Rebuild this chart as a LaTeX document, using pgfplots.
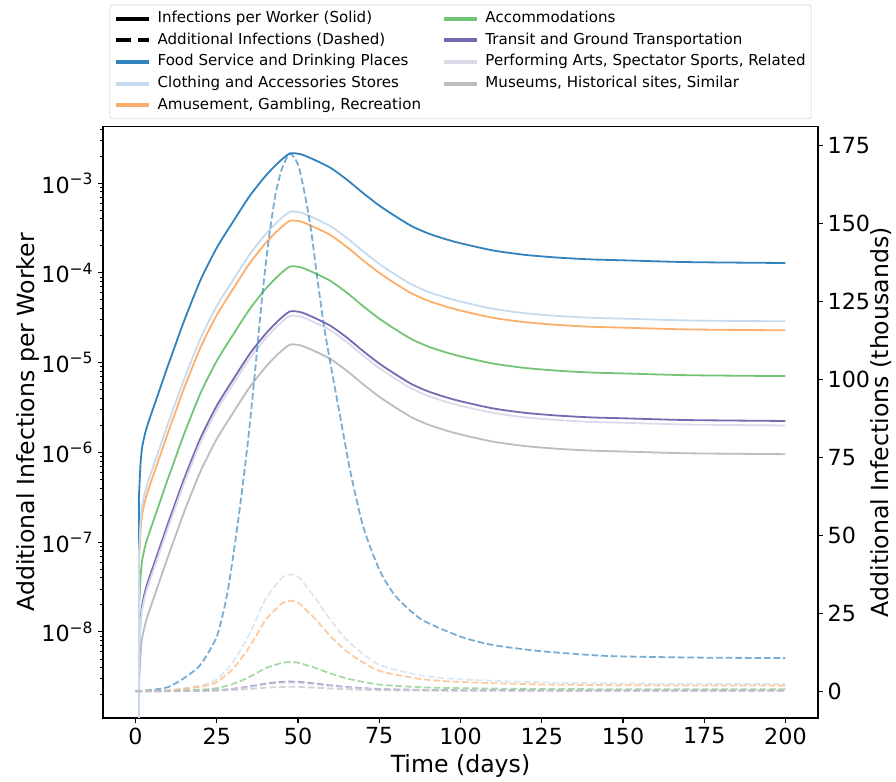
\documentclass[border=0pt]{standalone}
\usepackage{fontspec}
\setmainfont{DejaVu Sans}
\usepackage{pgfplots}
\usepackage{pgfplotstable}
\pgfplotsset{compat=1.18}

\definecolor{food}{HTML}{3182BD}
\definecolor{cloth}{HTML}{C6DBEF}
\definecolor{amuse}{HTML}{FDAE6B}
\definecolor{accom}{HTML}{74C476}
\definecolor{transit}{HTML}{756BB1}
\definecolor{perf}{HTML}{DADAEB}
\definecolor{museum}{HTML}{BDBDBD}

% infections per worker (left, log axis)
\pgfplotstableread{
t     food      cloth     amuse     accom     transit   perf      museum
1     2.951e-7  6.607e-8  5.248e-8  1.622e-8  5.129e-9  4.571e-9  2.188e-9
1.5   7.079e-7  1.585e-7  1.259e-7  3.890e-8  1.230e-8  1.096e-8  5.248e-9
2     1.122e-6  2.512e-7  1.995e-7  6.166e-8  1.950e-8  1.738e-8  8.318e-9
3     1.660e-6  3.715e-7  2.951e-7  9.120e-8  2.884e-8  2.570e-8  1.230e-8
4     2.188e-6  4.898e-7  3.890e-7  1.202e-7  3.802e-8  3.388e-8  1.622e-8
6     3.548e-6  7.943e-7  6.310e-7  1.950e-7  6.166e-8  5.495e-8  2.630e-8
8     5.754e-6  1.288e-6  1.023e-6  3.162e-7  1.000e-7  8.913e-8  4.266e-8
10    9.333e-6  2.089e-6  1.660e-6  5.129e-7  1.622e-7  1.445e-7  6.918e-8
12    1.479e-5  3.311e-6  2.630e-6  8.128e-7  2.570e-7  2.291e-7  1.096e-7
15    2.951e-5  6.607e-6  5.248e-6  1.622e-6  5.129e-7  4.571e-7  2.188e-7
20    8.318e-5  1.862e-5  1.479e-5  4.571e-6  1.445e-6  1.288e-6  6.166e-7
25    1.905e-4  4.266e-5  3.388e-5  1.047e-5  3.311e-6  2.951e-6  1.413e-6
30    3.715e-4  8.318e-5  6.607e-5  2.042e-5  6.457e-6  5.754e-6  2.754e-6
35    7.079e-4  1.585e-4  1.259e-4  3.890e-5  1.230e-5  1.096e-5  5.248e-6
40    1.202e-3  2.692e-4  2.138e-4  6.607e-5  2.089e-5  1.862e-5  8.913e-6
44    1.698e-3  3.802e-4  3.020e-4  9.333e-5  2.951e-5  2.630e-5  1.259e-5
47.5  2.138e-3  4.786e-4  3.802e-4  1.175e-4  3.715e-5  3.311e-5  1.585e-5
51    2.089e-3  4.677e-4  3.715e-4  1.148e-4  3.631e-5  3.236e-5  1.549e-5
55    1.820e-3  4.074e-4  3.236e-4  1.000e-4  3.162e-5  2.818e-5  1.349e-5
60    1.479e-3  3.311e-4  2.630e-4  8.128e-5  2.570e-5  2.291e-5  1.096e-5
65    1.096e-3  2.455e-4  1.950e-4  6.026e-5  1.905e-5  1.698e-5  8.128e-6
70    7.762e-4  1.738e-4  1.380e-4  4.266e-5  1.349e-5  1.202e-5  5.754e-6
75    5.623e-4  1.259e-4  1.000e-4  3.090e-5  9.772e-6  8.710e-6  4.169e-6
80    4.266e-4  9.550e-5  7.586e-5  2.344e-5  7.413e-6  6.607e-6  3.162e-6
85    3.311e-4  7.413e-5  5.888e-5  1.820e-5  5.754e-6  5.129e-6  2.455e-6
90    2.754e-4  6.166e-5  4.898e-5  1.514e-5  4.786e-6  4.266e-6  2.042e-6
95    2.399e-4  5.370e-5  4.266e-5  1.318e-5  4.169e-6  3.715e-6  1.778e-6
100   2.138e-4  4.786e-5  3.802e-5  1.175e-5  3.715e-6  3.311e-6  1.585e-6
110   1.778e-4  3.981e-5  3.162e-5  9.772e-6  3.090e-6  2.754e-6  1.318e-6
120   1.585e-4  3.548e-5  2.818e-5  8.710e-6  2.754e-6  2.455e-6  1.175e-6
130   1.479e-4  3.311e-5  2.630e-5  8.128e-6  2.570e-6  2.291e-6  1.096e-6
140   1.413e-4  3.162e-5  2.512e-5  7.762e-6  2.455e-6  2.188e-6  1.047e-6
150   1.380e-4  3.090e-5  2.455e-5  7.586e-6  2.399e-6  2.138e-6  1.023e-6
170   1.318e-4  2.951e-5  2.344e-5  7.244e-6  2.291e-6  2.042e-6  9.772e-7
200   1.288e-4  2.884e-5  2.291e-5  7.079e-6  2.239e-6  1.995e-6  9.550e-7
}\perworker

% the day-0 value is zero: on the log axis the line drops to the bottom edge
\pgfplotstableread{
t     food      cloth
1     1e-12     1e-12
1     2.951e-7  6.607e-8
}\dayzero

% additional infections, thousands (right axis)
\pgfplotstableread{
t     food
0     0
5     0.4
10    1.3
15    4.2
20    8.5
25    17.5
28    30
30    43
32.5  62
35    84
37    105
39    127
41    145
43    159
45    167.5
47.5  172.5
50    169
52    160
54    148
56    132
58    117
60    105
63    88
66    71
70    53
75    39
80    30.5
88    23
100   17.5
110   14.8
125   12.8
145   11.3
170   10.8
200   10.6
}\dashfood

\pgfplotstableread{
t     cloth  amuse  accom  transit perf   museum
0     0      0      0      0       0      0
10    0.28   0.22   0.07   0.02    0.02   0.01
20    1.84   1.43   0.46   0.15    0.13   0.07
25    3.80   2.94   0.95   0.31    0.26   0.14
30    9.33   7.22   2.32   0.76    0.65   0.35
35    18.2   14.1   4.54   1.49    1.26   0.68
40    29.5   22.8   7.34   2.41    2.04   1.10
45    36.3   28.1   9.05   2.96    2.51   1.36
47.5  37.4   29.0   9.32   3.05    2.59   1.40
50    36.7   28.4   9.13   2.99    2.54   1.37
55    30.4   23.5   7.56   2.48    2.10   1.13
60    22.8   17.6   5.67   1.86    1.58   0.85
66    15.4   11.9   3.83   1.26    1.07   0.58
75    8.46   6.55   2.11   0.69    0.59   0.32
88    4.99   3.86   1.24   0.41    0.35   0.19
100   3.80   2.94   0.95   0.31    0.26   0.14
125   2.78   2.15   0.69   0.23    0.19   0.10
160   2.39   1.85   0.59   0.19    0.17   0.09
200   2.30   1.78   0.57   0.19    0.16   0.09
}\dashrest

\pgfplotsset{
  base/.style={
    scale only axis, width=514.8pt, height=425.7pt,
    xmin=-10, xmax=210,
    tick align=outside,
    major tick length=3.5pt, minor tick length=2pt,
    every major tick/.append style={line width=0.8pt, black},
    every minor tick/.append style={line width=0.6pt, black},
    axis line style={line width=0.8pt},
    tick label style={font=\fontsize{16}{19}\selectfont},
    label style={font=\fontsize{17}{20}\selectfont},
    /pgf/number format/assume math mode=true,
  },
  solid/.style={line width=1.3pt, smooth, tension=0.4},
  dsh/.style={line width=1.3pt, dash pattern=on 4.8pt off 2.1pt, opacity=0.65, smooth, tension=0.4},
}

\begin{document}
\begin{tikzpicture}
% page margins as in the reference
\path (-74.2pt,-43.2pt) rectangle (571pt,517pt);
\begin{axis}[base,
  ymode=log, ymin=1.10e-9, ymax=4.24e-3,
  xtick={0,25,...,200}, xtick pos=bottom,
  ytick pos=left,
  ytick={1e-8,1e-7,1e-6,1e-5,1e-4,1e-3},
  yticklabels={10\textsuperscript{−8},10\textsuperscript{−7},10\textsuperscript{−6},10\textsuperscript{−5},10\textsuperscript{−4},10\textsuperscript{−3}},
  minor ytick={2e-9,3e-9,4e-9,5e-9,6e-9,7e-9,8e-9,9e-9,
    2e-8,3e-8,4e-8,5e-8,6e-8,7e-8,8e-8,9e-8,
    2e-7,3e-7,4e-7,5e-7,6e-7,7e-7,8e-7,9e-7,
    2e-6,3e-6,4e-6,5e-6,6e-6,7e-6,8e-6,9e-6,
    2e-5,3e-5,4e-5,5e-5,6e-5,7e-5,8e-5,9e-5,
    2e-4,3e-4,4e-4,5e-4,6e-4,7e-4,8e-4,9e-4,
    2e-3,3e-3,4e-3},
  xlabel={Time (days)},
  ylabel={Additional Infections per Worker},
  ylabel style={at={(axis description cs:-0.105,0.5)}, anchor=center},
]
\addplot[line width=1.3pt, food] table[x=t, y=food] {\dayzero};
\addplot[solid, food] table[x=t, y=food] {\perworker};
\addplot[solid, amuse] table[x=t, y=amuse] {\perworker};
\addplot[solid, accom] table[x=t, y=accom] {\perworker};
\addplot[solid, transit] table[x=t, y=transit] {\perworker};
\addplot[solid, perf] table[x=t, y=perf] {\perworker};
\addplot[solid, museum] table[x=t, y=museum] {\perworker};
\addplot[solid, cloth] table[x=t, y=cloth] {\perworker};
\addplot[line width=1.3pt, cloth] table[x=t, y=cloth] {\dayzero};
\end{axis}

\begin{axis}[base,
  axis x line=none, axis y line*=right,
  ymin=-8.6, ymax=181.1,
  ytick={0,25,...,175},
  ylabel={Additional Infections (thousands)},
  ylabel style={at={(axis description cs:1.088,0.5)}, anchor=center},
  legend columns=2,
  legend cell align=left,
  legend image code/.code={\draw[#1] (0pt,0pt) -- (24pt,0pt);},
  legend style={at={(0.5,1)}, anchor=south, yshift=5.5pt,
    font=\fontsize{10.85}{12}\selectfont,
    draw=black!20, rounded corners=2pt, fill=white,
    inner xsep=3pt, inner ysep=3.5pt,
    nodes={inner sep=1pt, text height=8.2pt, text depth=2.4pt},
    row sep=3pt,
    /tikz/every odd column/.append style={column sep=3.5pt},
    /tikz/every even column/.append style={column sep=14pt}},
]
\addplot[dsh, food, forget plot] table[x=t, y=food] {\dashfood};
\addplot[dsh, cloth, forget plot] table[x=t, y=cloth] {\dashrest};
\addplot[dsh, amuse, forget plot] table[x=t, y=amuse] {\dashrest};
\addplot[dsh, accom, forget plot] table[x=t, y=accom] {\dashrest};
\addplot[dsh, transit, forget plot] table[x=t, y=transit] {\dashrest};
\addplot[dsh, perf, forget plot] table[x=t, y=perf] {\dashrest};
\addplot[dsh, museum, forget plot] table[x=t, y=museum] {\dashrest};

\addlegendimage{black, line width=2.9pt}
\addlegendentry{Infections per Worker (Solid)}
\addlegendimage{accom, line width=2.9pt}
\addlegendentry{Accommodations}
\addlegendimage{black, line width=2.9pt, dash pattern=on 11pt off 4.8pt}
\addlegendentry{Additional Infections (Dashed)}
\addlegendimage{transit, line width=2.9pt}
\addlegendentry{Transit and Ground Transportation}
\addlegendimage{food, line width=2.9pt}
\addlegendentry{Food Service and Drinking Places}
\addlegendimage{perf, line width=2.9pt}
\addlegendentry{Performing Arts, Spectator Sports, Related}
\addlegendimage{cloth, line width=2.9pt}
\addlegendentry{Clothing and Accessories Stores}
\addlegendimage{museum, line width=2.9pt}
\addlegendentry{Museums, Historical sites, Similar}
\addlegendimage{amuse, line width=2.9pt}
\addlegendentry{Amusement, Gambling, Recreation}
\end{axis}
\end{tikzpicture}
\end{document}
